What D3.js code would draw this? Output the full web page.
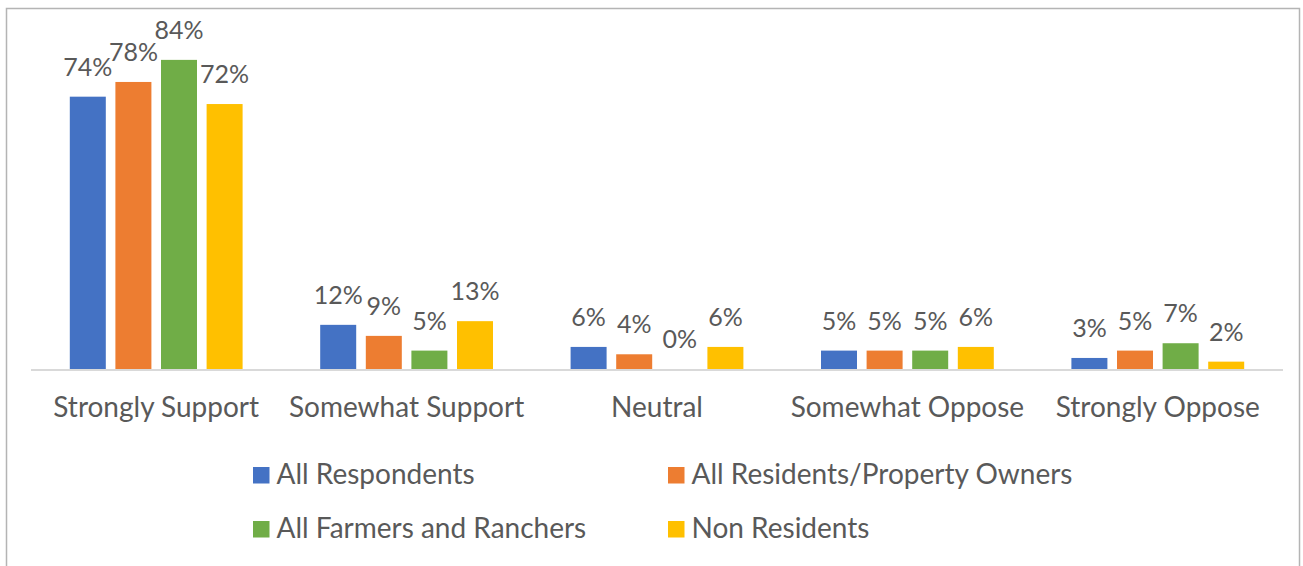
<!DOCTYPE html>
<html>
<head>
<meta charset="utf-8">
<script src="https://cdn.jsdelivr.net/npm/d3@7"></script>
<style>
  body { margin: 0; background: #fff; }
  text { font-family: Lato, "Open Sans", sans-serif; fill: #595959; }
</style>
</head>
<body>
<div id="chart"></div>
<script>
var categories = ["Strongly Support", "Somewhat Support", "Neutral", "Somewhat Oppose", "Strongly Oppose"];
var series = ["All Respondents", "All Residents/Property Owners", "All Farmers and Ranchers", "Non Residents"];
var colors = ["#4472C4", "#ED7D31", "#70AD47", "#FFC000"];
// values in percent, one array per series, in category order
var allRespondents = [74, 12, 6, 5, 3];
var allResidents   = [78, 9, 4, 5, 5];
var allFarmers     = [84, 5, 0, 5, 7];
var nonResidents   = [72, 13, 6, 6, 2];

var values = [allRespondents, allResidents, allFarmers, nonResidents];

var width  = 1303,
    height = 566,
    x0 = 31, x1 = 1283,
    base = 369;

var svg = d3.select("#chart").append("svg")
    .attr("width", width)
    .attr("height", height);

// chart frame
svg.append("rect")
    .attr("x", 6.5).attr("y", 8.5)
    .attr("width", 1293).attr("height", 620)
    .attr("fill", "none")
    .attr("stroke", "#b4b4b4")
    .attr("stroke-width", 1.5);

var xCat = d3.scaleBand()
    .domain(categories)
    .range([x0, x1]);

var xSer = d3.scaleBand()
    .domain(series)
    .range([-86.4, 86.4])
    .paddingInner(0.2105);

var y = d3.scaleLinear()
    .domain([0, 100])
    .range([base, base - 368]);

var rows = [];
categories.forEach(function(c, ci) {
    series.forEach(function(s, si) {
        rows.push({ cat: c, ser: s, si: si, v: values[si][ci] });
    });
});

var plot = svg.append("g");

plot.selectAll("rect.bar")
    .data(rows)
    .enter()
    .append("rect")
    .attr("class", "bar")
    .attr("x", function(d) { return xCat(d.cat) + xCat.bandwidth() / 2 + xSer(d.ser); })
    .attr("width", xSer.bandwidth())
    .attr("y", function(d) { return y(d.v); })
    .attr("height", function(d) { return base - y(d.v); })
    .attr("fill", function(d) { return colors[d.si]; });

// category axis line
svg.append("line")
    .attr("x1", x0).attr("x2", x1)
    .attr("y1", base + 1).attr("y2", base + 1)
    .attr("stroke", "#d9d9d9")
    .attr("stroke-width", 2);

plot.selectAll("text.val")
    .data(rows)
    .enter()
    .append("text")
    .attr("class", "val")
    .attr("x", function(d) { return xCat(d.cat) + xCat.bandwidth() / 2 + xSer(d.ser) + xSer.bandwidth() / 2; })
    .attr("y", function(d) { return y(d.v) - 21; })
    .attr("text-anchor", "middle")
    .style("font-size", "25px")
    .text(function(d) { return d.v + "%"; });

svg.selectAll("text.cat")
    .data(categories)
    .enter()
    .append("text")
    .attr("class", "cat")
    .attr("x", function(d) { return xCat(d) + xCat.bandwidth() / 2; })
    .attr("y", 417)
    .attr("text-anchor", "middle")
    .style("font-size", "28px")
    .text(function(d) { return d; });

// legend, two columns
var legend = svg.selectAll("g.legend")
    .data(series)
    .enter()
    .append("g")
    .attr("class", "legend")
    .attr("transform", function(d, i) {
        return "translate(" + (253 + (i % 2) * 415) + "," + (467 + Math.floor(i / 2) * 54) + ")";
    });

legend.append("rect")
    .attr("width", 16.5)
    .attr("height", 16.5)
    .attr("fill", function(d, i) { return colors[i]; });

legend.append("text")
    .attr("x", 23.5)
    .attr("y", 16.5)
    .style("font-size", "28px")
    .text(function(d) { return d; });
</script>
</body>
</html>
